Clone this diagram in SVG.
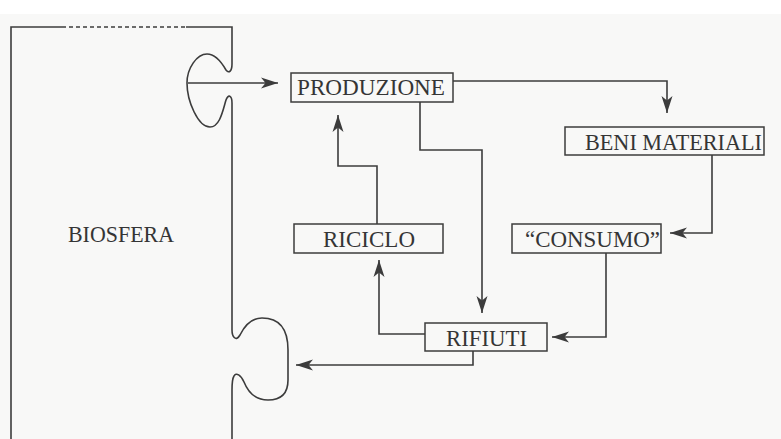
<svg xmlns="http://www.w3.org/2000/svg" width="781" height="439" viewBox="0 0 781 439">
<defs>
<style>
.ln{fill:none;stroke:#3c3c3c;stroke-width:1.6}
.bx{fill:none;stroke:#3c3c3c;stroke-width:1.5}
.tx{font-family:"Liberation Serif","Times New Roman",serif;font-size:24px;fill:#353535}
</style>
<marker id="ah" markerUnits="userSpaceOnUse" markerWidth="17" markerHeight="12" viewBox="0 0 17 12" refX="17" refY="6" orient="auto">
<path d="M0,0.5 L17,6 L0,11.5 L4.5,6 Z" fill="#3c3c3c"/>
</marker>
</defs>
<rect width="781" height="439" fill="#f8f8f7"/>
<rect width="781" height="14" fill="#ffffff"/>
<g id="biosfera">
<path class="ln" d="M11,439 V27 H62"/>
<path class="ln" d="M62,27 H185" stroke-dasharray="4 3"/>
<path class="ln" d="M186,27 H232 V64 C232,71 229,74 226,70 C222,63 215,54 207,54 C197,54 187,68 187,83 C187,101 198,127 210,127 C220,127 223,110 226,100 C228,94 232,95 232,103 V330 C232,337 236,342 240,335 C245,325 252,318 262,318 C280,318 288,330 288,350 V380 C288,395 280,400 268,400 C255,400 248,392 244,382 C241,375 236,372 234,376 C232,379 232,384 232,390 V439"/>
<text class="tx" x="68" y="242" textLength="106" lengthAdjust="spacingAndGlyphs">BIOSFERA</text>
</g>
<g id="produzione">
<rect class="bx" x="291" y="73" width="162" height="29"/>
<text class="tx" x="297" y="95" textLength="148" lengthAdjust="spacingAndGlyphs">PRODUZIONE</text>
</g>
<g id="beni">
<rect class="bx" x="565" y="127" width="199" height="28"/>
<text class="tx" x="585" y="150" textLength="177" lengthAdjust="spacingAndGlyphs">BENI MATERIALI</text>
</g>
<g id="riciclo">
<rect class="bx" x="294" y="224" width="149" height="29"/>
<text class="tx" x="323" y="247" textLength="92" lengthAdjust="spacingAndGlyphs">RICICLO</text>
</g>
<g id="consumo">
<rect class="bx" x="512" y="224" width="149" height="29"/>
<text class="tx" x="525" y="247" textLength="135" lengthAdjust="spacingAndGlyphs">“CONSUMO”</text>
</g>
<g id="rifiuti">
<rect class="bx" x="425" y="323" width="122" height="28"/>
<text class="tx" x="446" y="346" textLength="81" lengthAdjust="spacingAndGlyphs">RIFIUTI</text>
</g>
<g id="connectors">
<path class="ln" d="M188,83 H278" marker-end="url(#ah)"/>
<path class="ln" d="M453,81 H667 V113" marker-end="url(#ah)"/>
<path class="ln" d="M712,155 V233 H670" marker-end="url(#ah)"/>
<path class="ln" d="M606,253 V337 H552" marker-end="url(#ah)"/>
<path class="ln" d="M420,102 V150 H482 V313" marker-end="url(#ah)"/>
<path class="ln" d="M377,224 V166 H338 V115" marker-end="url(#ah)"/>
<path class="ln" d="M425,334 H379 V260" marker-end="url(#ah)"/>
<path class="ln" d="M473,351 V365 H296" marker-end="url(#ah)"/>
</g>
</svg>
